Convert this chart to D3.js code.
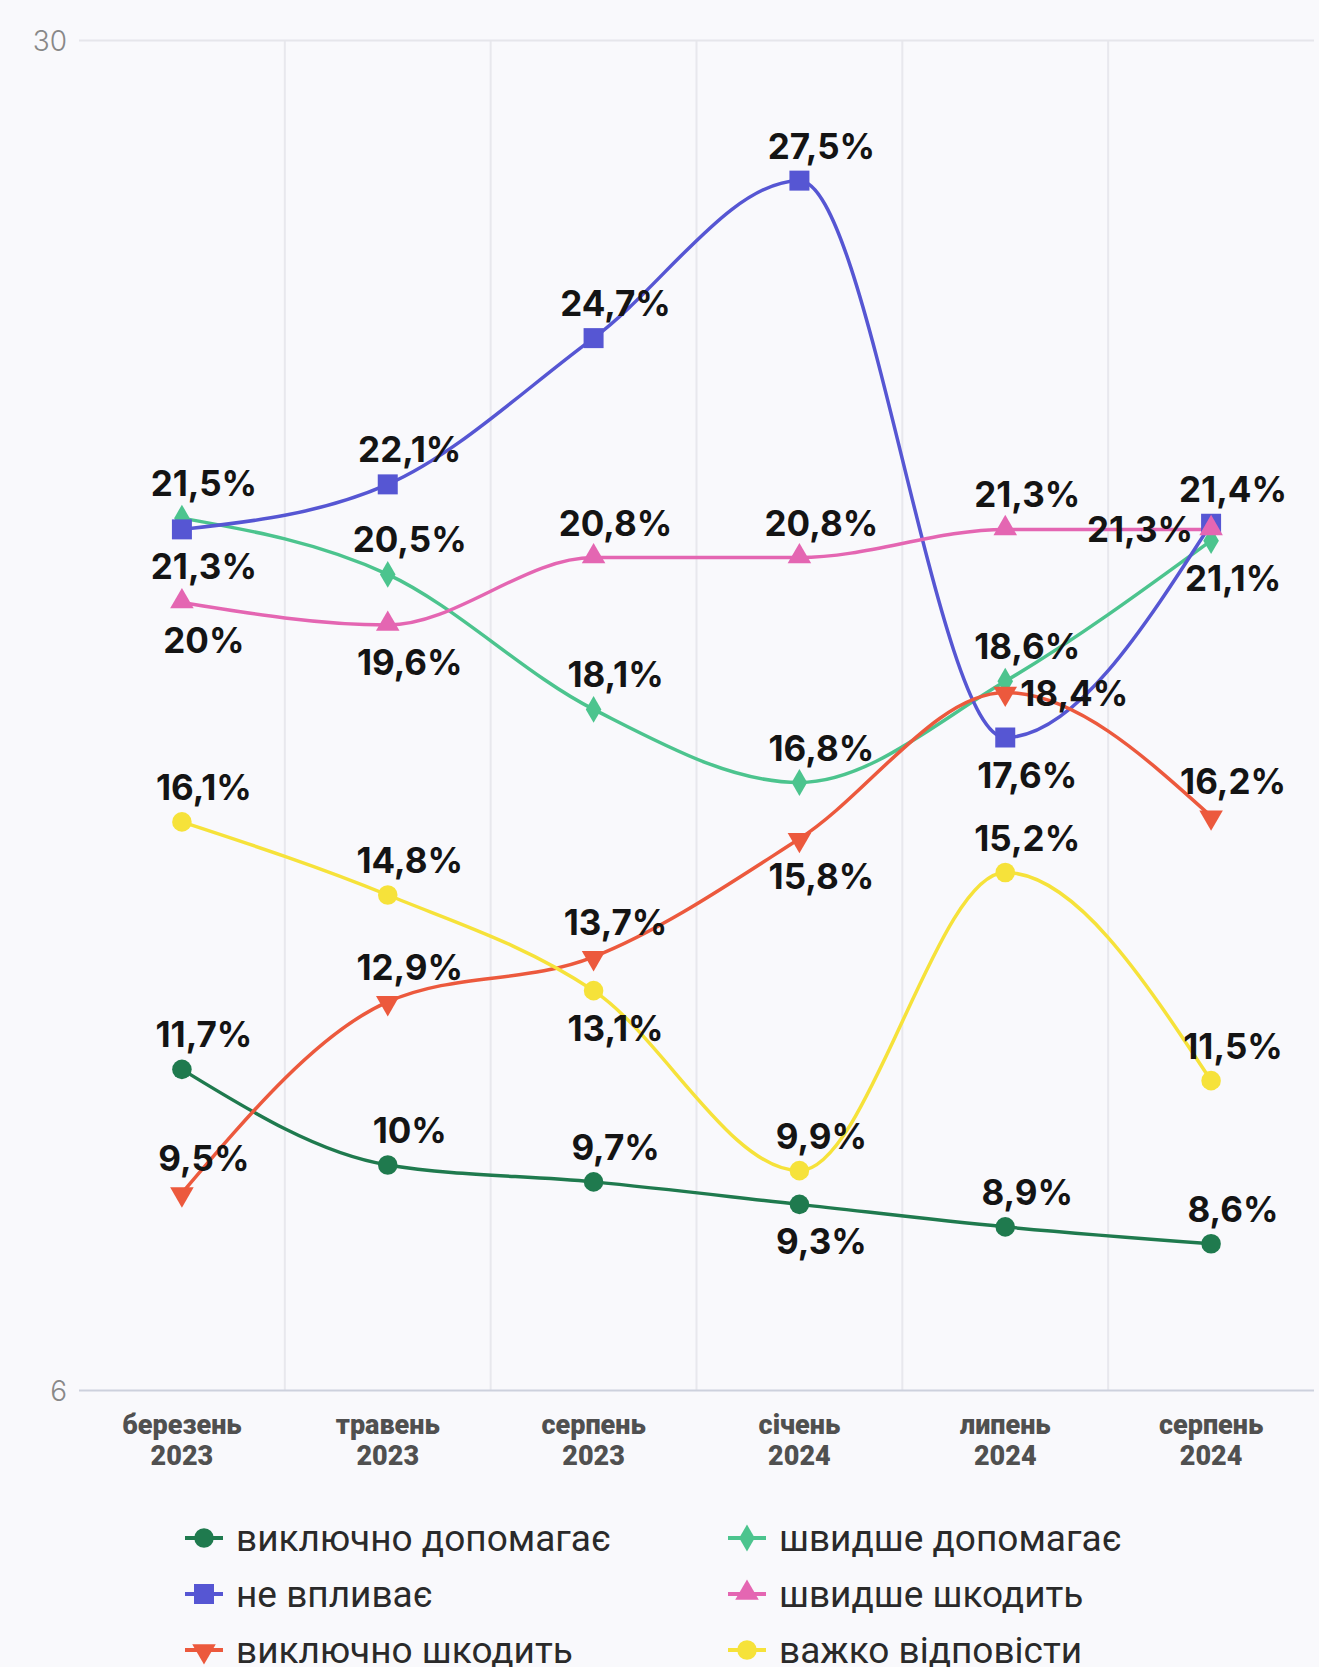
<!DOCTYPE html>
<html>
<head>
<meta charset="utf-8">
<script src="https://cdn.jsdelivr.net/npm/d3@7"></script>
<style>
  html, body { margin: 0; padding: 0; background: #f9f9fc; }
  svg { display: block; }
</style>
</head>
<body>
<svg class="chart" width="1319" height="1667"></svg>
<script>
//------------------------------------------------------------------------------
//Data
//------------------------------------------------------------------------------
var months = ["березень", "травень", "серпень", "січень", "липень", "серпень"];
var years = ["2023", "2023", "2023", "2024", "2024", "2024"];
var yTicks = [6, 30];

var seriesNames = ["виключно допомагає", "швидше допомагає", "не впливає", "швидше шкодить", "виключно шкодить", "важко відповісти"];
var seriesColors = ["#1f7a4e", "#4cc48e", "#5656d3", "#e466b2", "#ec593d", "#f6e23a"];
var seriesSymbols = ["circle", "diamond", "square", "triUp", "triDown", "circle"];

var helpsOnly   = [11.7, 10, 9.7, 9.3, 8.9, 8.6];
var helpsRather = [21.5, 20.5, 18.1, 16.8, 18.6, 21.1];
var noEffect    = [21.3, 22.1, 24.7, 27.5, 17.6, 21.4];
var harmsRather = [20, 19.6, 20.8, 20.8, 21.3, 21.3];
var harmsOnly   = [9.5, 12.9, 13.7, 15.8, 18.4, 16.2];
var hardToSay   = [16.1, 14.8, 13.1, 9.9, 15.2, 11.5];

// where the value label sits: a = above, b = below, l = left, r = right
var helpsOnlyPos   = ["a", "a", "a", "b", "a", "a"];
var helpsRatherPos = ["a", "a", "a", "a", "a", "b"];
var noEffectPos    = ["b", "a", "a", "a", "b", "a"];
var harmsRatherPos = ["b", "b", "a", "a", "a", "l"];
var harmsOnlyPos   = ["a", "a", "a", "b", "r", "a"];
var hardToSayPos   = ["a", "a", "b", "a", "a", "a"];

var allValues = [helpsOnly, helpsRather, noEffect, harmsRather, harmsOnly, hardToSay];
var allPos = [helpsOnlyPos, helpsRatherPos, noEffectPos, harmsRatherPos, harmsOnlyPos, hardToSayPos];

//------------------------------------------------------------------------------
//Chart
//------------------------------------------------------------------------------
var svg = d3.select(".chart");
var plot = { left: 79, right: 1314, top: 40, bottom: 1390 };

var x = d3.scaleBand()
  .domain(d3.range(months.length))
  .range([plot.left, plot.right]);

var y = d3.scaleLinear()
  .domain([6, 30])
  .range([plot.bottom, plot.top]);

function cx(i) { return x(i) + x.bandwidth() / 2; }

// vertical grid lines between categories
svg.append("g")
  .selectAll("line")
  .data(d3.range(1, months.length))
  .enter()
  .append("line")
  .attr("x1", function (d) { return x(d); })
  .attr("x2", function (d) { return x(d); })
  .attr("y1", plot.top)
  .attr("y2", plot.bottom)
  .attr("stroke", "#e8e8ed")
  .attr("stroke-width", 2);

// y axis (only 6 and 30)
var yAxis = svg.append("g")
  .attr("transform", "translate(" + plot.left + ",0)")
  .call(d3.axisLeft(y).tickValues(yTicks).tickSize(plot.left - plot.right).tickPadding(12));
yAxis.select(".domain").remove();
yAxis.selectAll(".tick line")
  .attr("stroke", function (d) { return d == 6 ? "#cdd1dd" : "#e6e6eb"; })
  .attr("stroke-width", 2);
yAxis.selectAll(".tick text")
  .attr("x", -12)
  .attr("dy", "0.38em")
  .attr("fill", "#888")
  .style("font-family", "Inter, 'Noto Sans', sans-serif")
  .style("font-weight", "300")
  .style("font-size", "28px");

// x axis labels
var xAxis = svg.append("g")
  .attr("transform", "translate(0," + plot.bottom + ")")
  .call(d3.axisBottom(x).tickSize(0).tickFormat(function () { return ""; }));
xAxis.select(".domain").remove();
xAxis.selectAll(".tick text").each(function (d) {
  var t = d3.select(this)
    .attr("y", 0)
    .attr("dy", null)
    .attr("fill", "#505050")
    .style("font-family", "Roboto, 'Noto Sans', sans-serif")
    .style("font-weight", "900")
    .style("font-size", "27px");
  t.append("tspan").attr("x", 0).attr("y", 44).text(months[d]);
  t.append("tspan").attr("x", 0).attr("y", 75).text(years[d]);
});

// symbols
function symbolPath(type) {
  if (type == "circle") return d3.symbol(d3.symbolCircle, 300)();
  if (type == "square") return d3.symbol(d3.symbolSquare, 400)();
  if (type == "diamond") return d3.symbol(d3.symbolDiamond, 210)();
  return d3.symbol(d3.symbolTriangle, 240)();
}
function symbolTransform(type, px, py) {
  if (type == "triDown") return "translate(" + px + "," + (py + 1) + ") rotate(180)";
  if (type == "triUp") return "translate(" + px + "," + (py - 1) + ")";
  return "translate(" + px + "," + py + ")";
}

var line = d3.line()
  .x(function (d, i) { return cx(i); })
  .y(function (d) { return y(d); })
  .curve(d3.curveMonotoneX);

// lines
var seriesG = svg.append("g");
allValues.forEach(function (vals, s) {
  seriesG.append("path")
    .datum(vals)
    .attr("d", line)
    .attr("fill", "none")
    .attr("stroke", seriesColors[s])
    .attr("stroke-width", 3.5);
});

// markers
allValues.forEach(function (vals, s) {
  seriesG.append("g")
    .selectAll("path")
    .data(vals)
    .enter()
    .append("path")
    .attr("d", symbolPath(seriesSymbols[s]))
    .attr("transform", function (d, i) { return symbolTransform(seriesSymbols[s], cx(i), y(d)); })
    .attr("fill", seriesColors[s]);
});

// value labels
function fmt(v) { return String(v).replace(".", ",") + "%"; }
var labelG = svg.append("g")
  .style("font-family", "Inter, Roboto, sans-serif")
  .style("font-weight", "700")
  .style("font-size", "35px")
  .attr("fill", "#141414");

allValues.forEach(function (vals, s) {
  labelG.append("g")
    .selectAll("text")
    .data(vals)
    .enter()
    .append("text")
    .text(function (d) { return fmt(d); })
    .attr("x", function (d, i) {
      var p = allPos[s][i];
      if (p == "l") return cx(i) - 18;
      if (p == "r") return cx(i) + 15;
      return cx(i) + 22;
    })
    .attr("y", function (d, i) {
      var p = allPos[s][i];
      if (p == "a") return y(d) - 22;
      if (p == "b") return y(d) + 50;
      return y(d) + 13;
    })
    .attr("text-anchor", function (d, i) {
      var p = allPos[s][i];
      if (p == "l") return "end";
      if (p == "r") return "start";
      return "middle";
    });
});

// legend
var legendCols = [204, 747];
var legendRows = [1538, 1594, 1650];
var legend = svg.append("g")
  .selectAll("g")
  .data(seriesNames)
  .enter()
  .append("g")
  .attr("transform", function (d, i) {
    return "translate(" + legendCols[i % 2] + "," + legendRows[Math.floor(i / 2)] + ")";
  });

legend.append("line")
  .attr("x1", -19).attr("x2", 19)
  .attr("stroke", function (d, i) { return seriesColors[i]; })
  .attr("stroke-width", 4);
legend.append("path")
  .attr("d", function (d, i) { return symbolPath(seriesSymbols[i]); })
  .attr("transform", function (d, i) { return symbolTransform(seriesSymbols[i], 0, 0); })
  .attr("fill", function (d, i) { return seriesColors[i]; });
legend.append("text")
  .text(function (d) { return d; })
  .attr("x", 32)
  .attr("y", 13)
  .attr("fill", "#2a2a2a")
  .style("font-family", "Roboto, 'Noto Sans', sans-serif")
  .style("font-size", "37px");
</script>
</body>
</html>
